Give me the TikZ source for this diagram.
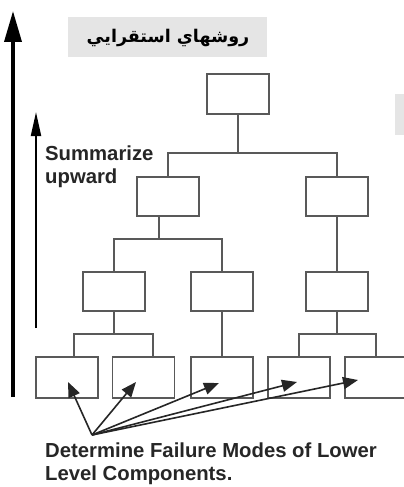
\documentclass[tikz,border=0pt]{standalone}
\usepackage{fontspec}
\setmainfont{Liberation Sans}
\newfontfamily\arabicfont[Script=Arabic]{DejaVu Sans}
\TeXXeTstate=1
\usetikzlibrary{arrows.meta}
\begin{document}
\begin{tikzpicture}[x=1pt,y=-1pt,
  box/.style={draw=black!65,line width=1.1pt,minimum width=62pt,minimum height=40pt,inner sep=0pt},
  link/.style={draw=black!65,line width=1.1pt},
  fm/.style={draw=black!85,line width=1.6pt,-{Triangle[length=15pt,width=12pt]}},
  lbl/.style={font=\bfseries\fontsize{20.3}{23}\selectfont,text=black!85,align=left,inner sep=0pt}]
\useasboundingbox (0,0) rectangle (404,487);
\fill[white] (0,0) rectangle (404,487);
% big arrows
\coordinate (bigS) at (13,397);
\coordinate (bigE) at (13,11);
\draw[line width=3.6pt,-{Triangle[length=31pt,width=17pt]}] (bigS) -- (bigE);
\coordinate (smS) at (36,328);
\coordinate (smE) at (36,112);
\draw[line width=2pt,-{Triangle[length=24pt,width=10pt]}] (smS) -- (smE);
% title
\node[fill=black!10,minimum width=199pt,minimum height=40pt,inner sep=0pt] (title) at (167.5,37) {};
\node[inner sep=0pt] (titletext) at (168,38) {\arabicfont\bfseries\fontsize{17.5}{21}\selectfont\beginR روشهاي استقرايي\endR};
\node[fill=black!10,minimum width=12pt,minimum height=41pt,inner sep=0pt,anchor=west] (rgray) at (395,114.5) {};
% boxes
\node[box] (top) at (238,94) {};
\node[box,minimum height=39pt] (l2a) at (168,196.5) {};
\node[box,minimum height=39pt] (l2b) at (337,196.5) {};
\node[box,minimum height=39pt] (l3a) at (114,291.5) {};
\node[box,minimum height=39pt] (l3b) at (222,291.5) {};
\node[box,minimum height=39pt] (l3c) at (337,291.5) {};
\node[box,minimum height=41pt] (l4a) at (67,377.5) {};
\node[box,minimum height=41pt] (l4b) at (143.5,377.5) {};
\node[box,minimum height=41pt] (l4c) at (222,377.5) {};
\node[box,minimum height=41pt] (l4d) at (299,377.5) {};
\node[box,minimum height=41pt] (l4e) at (376,377.5) {};
% tree connectors
\coordinate (j1) at (238,153);
\draw[link] (top.south) -- (j1);
\draw[link] (l2a.north) |- (j1) -| (l2b.north);
\coordinate (d2a) at (159,216);
\coordinate (j2) at (159,239);
\draw[link] (d2a) -- (j2);
\draw[link] (l3a.north) |- (j2) -| (l3b.north);
\draw[link] (l2b.south) -- (l3c.north);
\coordinate (j3) at (114,334);
\coordinate (t4a) at (74,357);
\coordinate (t4b) at (153,357);
\draw[link] (l3a.south) -- (j3);
\draw[link] (t4a) |- (j3) -| (t4b);
\draw[link] (l3b.south) -- (l4c.north);
\coordinate (j4) at (337,334);
\draw[link] (l3c.south) -- (j4);
\draw[link] (l4d.north) |- (j4) -| (l4e.north);
% failure-mode arrows
\coordinate (src) at (92,435);
\coordinate (h1) at (68,382);
\coordinate (h2) at (136,382);
\coordinate (h3) at (219,383);
\coordinate (h4) at (297,382);
\coordinate (h5) at (358,380);
\foreach \h in {h1,h2,h3,h4,h5} \draw[fm] (src) -- (\h);
% labels
\node[lbl,anchor=north west] (sum) at (45,146) {Summarize\\upward};
\node[lbl,anchor=north west] (det) at (45,443) {Determine Failure Modes of Lower\\Level Components.};
\end{tikzpicture}
\end{document}
